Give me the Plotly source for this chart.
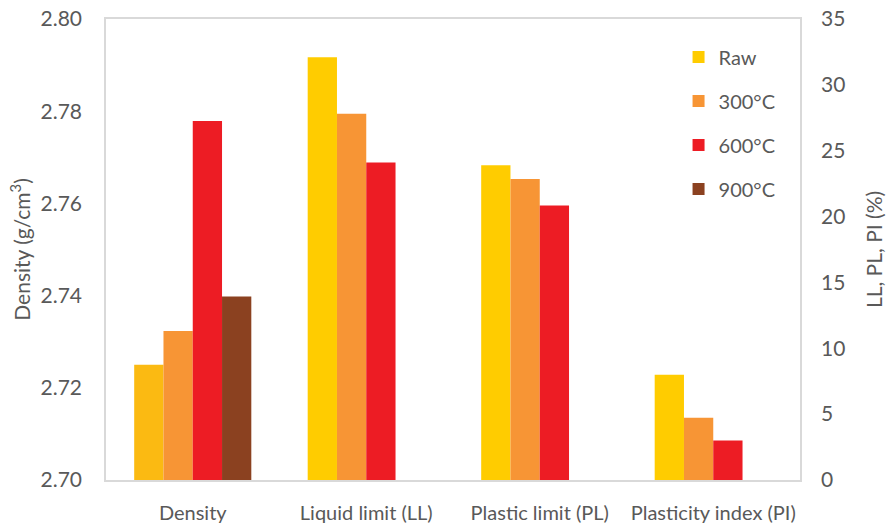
import plotly.graph_objects as go

series = ["Raw", "300°C", "600°C", "900°C"]
colors = ["#FFCC00", "#F79535", "#ED1C24", "#8B4120"]
density_colors = ["#FBBA12", "#F79535", "#ED1C24", "#8B4120"]

density_cat = ["Density"]
density_vals = {"Raw": 2.725, "300°C": 2.7323, "600°C": 2.7779, "900°C": 2.7398}

lim_cats = ["Liquid limit (LL)", "Plastic limit (PL)", "Plasticity index (PI)"]
lim_vals = {
    "Raw": [32.1, 23.9, 8.0],
    "300°C": [27.8, 22.85, 4.73],
    "600°C": [24.1, 20.85, 3.0],
    "900°C": [0, 0, 0],
}

font_family = "Lato, 'Open Sans', sans-serif"
text_col = "#595959"

fig = go.Figure()
for i, s in enumerate(series):
    fig.add_trace(go.Bar(
        x=density_cat, y=[density_vals[s]], name=s,
        marker=dict(color=density_colors[i], line=dict(width=0)),
        offsetgroup=str(i), legendgroup=s, showlegend=False,
        yaxis="y",
    ))
for i, s in enumerate(series):
    fig.add_trace(go.Bar(
        x=lim_cats, y=lim_vals[s], name=s,
        marker=dict(color=colors[i], line=dict(width=0)),
        offsetgroup=str(i), legendgroup=s, showlegend=True,
        yaxis="y2",
    ))

fig.update_layout(
    width=886, height=527,
    margin=dict(l=106, r=86, t=19, b=47, autoexpand=False),
    paper_bgcolor="white", plot_bgcolor="white",
    barmode="group", bargap=0.325, bargroupgap=0,
    font=dict(family=font_family, size=20, color=text_col),
    xaxis=dict(
        categoryorder="array", categoryarray=density_cat + lim_cats,
        showline=True, linecolor="#D9D9D9", linewidth=1.5, mirror=True,
        showgrid=False, ticks="", ticklabelstandoff=14, automargin=False,
        tickfont=dict(size=20, color=text_col),
    ),
    yaxis=dict(
        range=[2.70, 2.80], dtick=0.02, tickformat=".2f",
        showline=True, linecolor="#D9D9D9", linewidth=1.5, mirror=True,
        showgrid=False, zeroline=False, ticks="", ticklabelstandoff=18,
        automargin=False,
        tickfont=dict(size=21, color=text_col),
        title=dict(text="Density (g/cm<sup>3</sup>)", font=dict(size=21, color=text_col), standoff=4),
    ),
    yaxis2=dict(
        range=[0, 35], dtick=5, overlaying="y", side="right",
        showline=False, showgrid=False, zeroline=False, ticks="",
        ticklabelstandoff=20, automargin=False,
        tickfont=dict(size=21, color=text_col),
        title=dict(text="LL, PL, PI (%)", font=dict(size=21, color=text_col), standoff=22),
    ),
    legend=dict(
        x=0.825, y=0.96, xanchor="left", yanchor="top",
        bgcolor="rgba(0,0,0,0)", traceorder="grouped", tracegroupgap=15,
        font=dict(size=20, color=text_col), itemwidth=30,
    ),
)

fig.write_html(
    "out.html",
    config={"displayModeBar": False},
    post_script="document.body.style.margin='0';document.body.style.overflow='hidden';",
)
